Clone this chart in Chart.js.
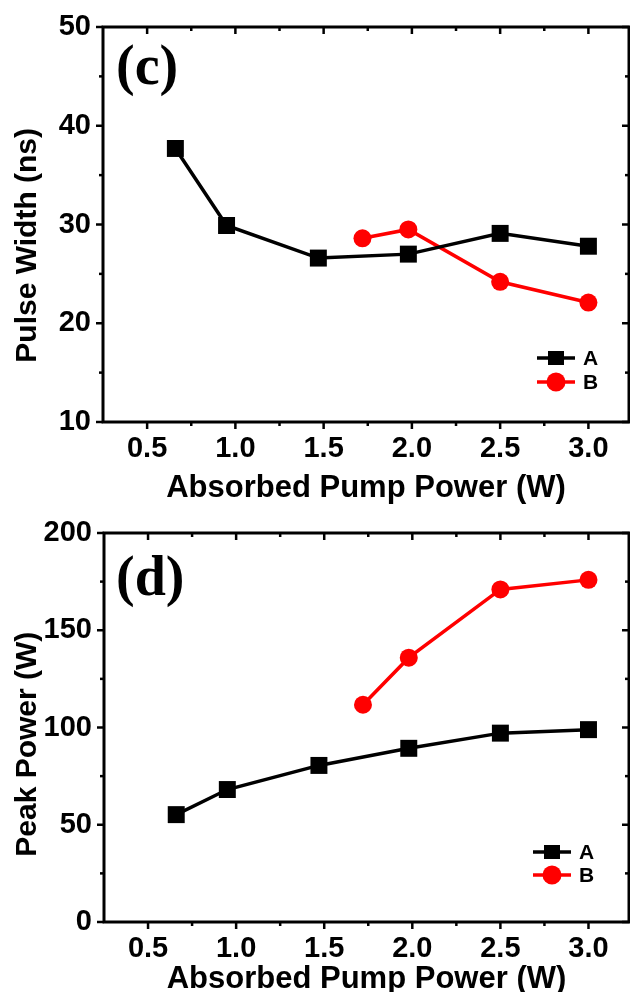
<!DOCTYPE html>
<html lang="en">
<head>
<meta charset="UTF-8" />
<title>Pulse width and peak power vs absorbed pump power</title>
<script src="https://cdn.jsdelivr.net/npm/chart.js@4.4.1/dist/chart.umd.min.js"></script>
<style>
  html, body { margin: 0; padding: 0; background: #fff; overflow: hidden; }
  .panel { position: absolute; left: 0; width: 641px; }
  #panelC { top: 0; height: 510px; }
  #panelD { top: 500px; height: 500px; }
</style>
</head>
<body>
<div class="panel" id="panelC"><canvas id="chartC"></canvas></div>
<div class="panel" id="panelD"><canvas id="chartD"></canvas></div>

<script>
// absorbed pump power (W)
const pumpA = [0.66, 0.95, 1.47, 1.98, 2.5, 3.0];
const pumpB = [1.72, 1.98, 2.5, 3.0];

// (c) pulse width (ns)
const widthA = [37.7, 29.9, 26.6, 27.0, 29.1, 27.8];
const widthB = [28.6, 29.5, 24.2, 22.1];

// (d) peak power (W)
const peakA = [55.2, 68.1, 80.5, 89.3, 97.1, 98.9];
const peakB = [111.7, 135.9, 171.0, 175.9];

const xTicks = [0.5, 1.0, 1.5, 2.0, 2.5, 3.0];
const xMinor = [0.75, 1.25, 1.75, 2.25, 2.75];
const widthTicks = [10, 20, 30, 40, 50];
const widthMinor = [15, 25, 35, 45];
const peakTicks = [0, 50, 100, 150, 200];
const peakMinor = [25, 75, 125, 175];

Chart.defaults.font.family = "'Liberation Sans', Arial, sans-serif";
Chart.defaults.font.weight = 'bold';
Chart.defaults.color = '#000';

const toPoints = (xs, ys) => xs.map((x, i) => ({ x, y: ys[i] }));

// frame, inner/outer ticks, panel letter and the small legend
const decorations = {
	id: 'decorations',
	afterDraw(chart, args, o) {
		const { ctx, chartArea: a } = chart;
		const xs = chart.scales.x, ys = chart.scales.y;
		ctx.save();
		ctx.strokeStyle = '#000';
		ctx.lineWidth = 3;
		ctx.strokeRect(a.left, a.top, a.right - a.left, a.bottom - a.top);

		ctx.lineWidth = 2.5;
		const seg = (x1, y1, x2, y2) => { ctx.beginPath(); ctx.moveTo(x1, y1); ctx.lineTo(x2, y2); ctx.stroke(); };
		const xAll = xTicks.map(v => [v, 7]).concat(xMinor.map(v => [v, 4]));
		xAll.forEach(([v, len]) => {
			const px = xs.getPixelForValue(v);
			seg(px, a.bottom, px, a.bottom + len);
			seg(px, a.top, px, a.top + len);
		});
		const yAll = o.yMajor.map(v => [v, 7]).concat(o.yMinor.map(v => [v, 4]));
		yAll.forEach(([v, len]) => {
			const py = ys.getPixelForValue(v);
			seg(a.left - len, py, a.left, py);
			seg(a.right - len, py, a.right, py);
		});

		// panel letter
		ctx.fillStyle = '#000';
		ctx.font = "bold 56px 'Liberation Serif', 'Times New Roman', serif";
		ctx.textAlign = 'left';
		ctx.textBaseline = 'middle';
		ctx.fillText(o.letter, o.letterX, o.letterY);

		// legend
		ctx.font = "bold 21px 'Liberation Sans', Arial, sans-serif";
		chart.data.datasets.forEach((ds, i) => {
			const y = o.legendY + i * o.legendGap;
			const x = o.legendX;
			ctx.strokeStyle = ds.borderColor;
			ctx.fillStyle = ds.backgroundColor;
			ctx.lineWidth = 3.5;
			seg(x, y, x + 11, y);
			seg(x + 27, y, x + 38, y);
			const cx = x + 19;
			if (ds.pointStyle === 'rect') {
				ctx.fillRect(cx - 8, y - 7, 16, 14);
			} else {
				ctx.beginPath();
				ctx.arc(cx, y, 9.5, 0, Math.PI * 2);
				ctx.fill();
			}
			ctx.fillStyle = '#000';
			ctx.textBaseline = 'middle';
			ctx.fillText(ds.label, x + 46, y + 1);
		});
		ctx.restore();
	}
};

function makePanel(id, cfg) {
	return new Chart(document.getElementById(id), {
		type: 'scatter',
		data: {
			datasets: [
				{
					label: 'A',
					data: toPoints(pumpA, cfg.a),
					showLine: true,
					borderColor: '#000',
					backgroundColor: '#000',
					borderWidth: 3.5,
					pointStyle: 'rect',
					pointRadius: 12,
					pointBorderWidth: 0,
				},
				{
					label: 'B',
					data: toPoints(pumpB, cfg.b),
					showLine: true,
					borderColor: '#ff0000',
					backgroundColor: '#ff0000',
					borderWidth: 3.5,
					pointStyle: 'circle',
					pointRadius: 9,
					pointBorderWidth: 0,
				},
			],
		},
		options: {
			responsive: true,
			maintainAspectRatio: false,
			animation: false,
			layout: { padding: { top: cfg.top, right: 2, left: 0, bottom: 0 } },
			plugins: {
				legend: { display: false },
				tooltip: { enabled: false },
				decorations: cfg.deco,
			},
			scales: {
				x: {
					type: 'linear',
					min: 0.25,
					max: 3.23,
					afterBuildTicks: s => { s.ticks = xTicks.map(value => ({ value })); },
					afterFit: s => { s.height = cfg.xHeight; s.paddingLeft = 0; s.paddingRight = 0; },
					grid: { display: false, drawTicks: false },
					border: { display: false },
					ticks: { padding: 10, font: { size: 29 }, callback: v => v.toFixed(1) },
					title: { display: true, text: 'Absorbed Pump Power (W)', font: { size: 31 }, padding: { top: 0, bottom: cfg.xTitlePad } },
				},
				y: {
					type: 'linear',
					min: cfg.yMin,
					max: cfg.yMax,
					afterBuildTicks: s => { s.ticks = cfg.deco.yMajor.map(value => ({ value })); },
					afterFit: s => { s.width = cfg.yWidth; s.paddingTop = 0; s.paddingBottom = 0; },
					grid: { display: false, drawTicks: false },
					border: { display: false },
					ticks: { padding: 12, font: { size: 29 } },
					title: { display: true, text: cfg.yTitle, font: { size: 30 }, padding: { top: 10, bottom: 0 } },
				},
			},
		},
		plugins: [decorations],
	});
}

makePanel('chartC', {
	a: widthA, b: widthB,
	yMin: 10, yMax: 50,
	top: 27, yWidth: 103, xHeight: 88, xTitlePad: 3,
	// trailing spaces nudge the rotated title down like the original
	yTitle: 'Pulse Width (ns)     ',
	deco: { yMajor: widthTicks, yMinor: widthMinor, letter: '(c)', letterX: 116, letterY: 70, legendX: 537, legendY: 358, legendGap: 24 },
});

makePanel('chartD', {
	a: peakA, b: peakB,
	yMin: 0, yMax: 200,
	top: 33, yWidth: 104, xHeight: 78, xTitlePad: 2,
	yTitle: 'Peak Power (W)    ',
	deco: { yMajor: peakTicks, yMinor: peakMinor, letter: '(d)', letterX: 116, letterY: 81, legendX: 533, legendY: 352, legendGap: 23 },
});
</script>
</body>
</html>
